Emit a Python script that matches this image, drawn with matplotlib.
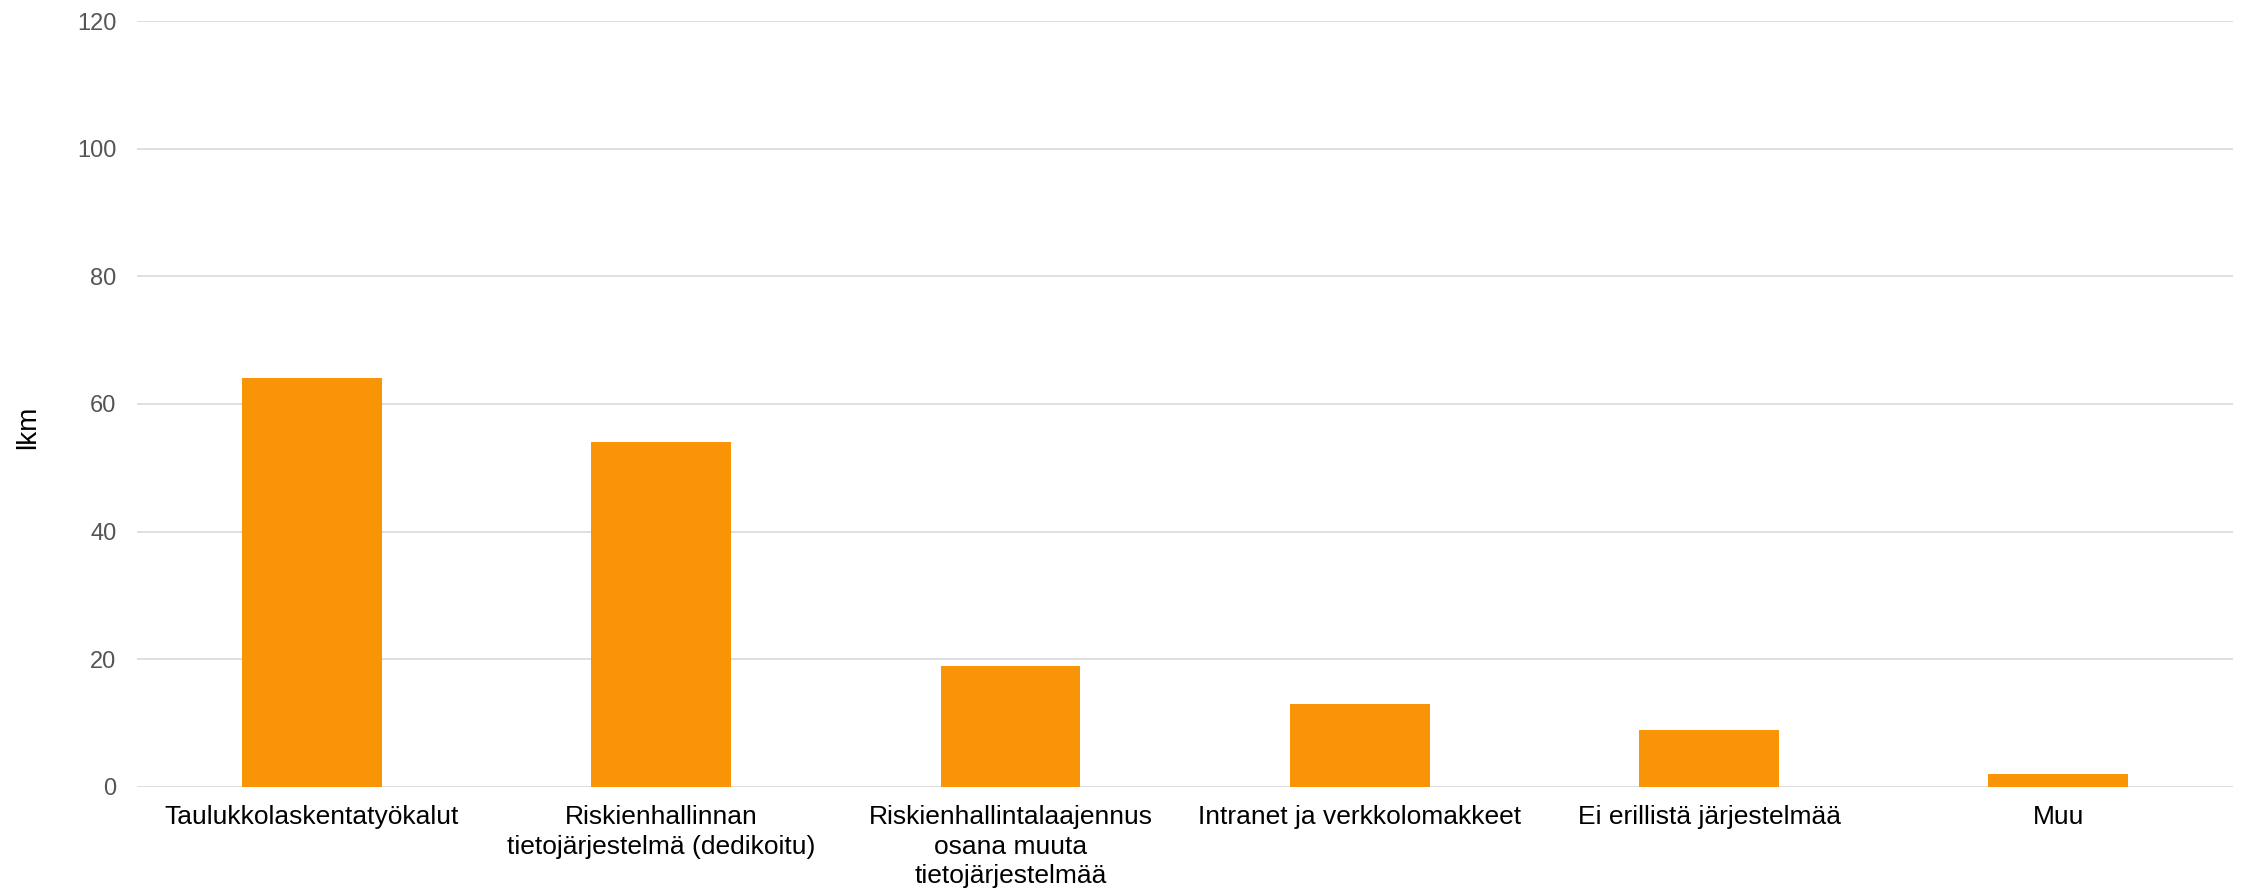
import matplotlib
matplotlib.use("Agg")
from matplotlib import pyplot as plt

categories = [
    "Taulukkolaskentatyökalut",
    "Riskienhallinnan\ntietojärjestelmä (dedikoitu)",
    "Riskienhallintalaajennus\nosana muuta\ntietojärjestelmää",
    "Intranet ja verkkolomakkeet",
    "Ei erillistä järjestelmää",
    "Muu",
]
counts = [64, 54, 19, 13, 9, 2]
yticks = [0, 20, 40, 60, 80, 100, 120]

plt.rcParams["font.family"] = ["Liberation Sans", "DejaVu Sans"]

fig = plt.figure(figsize=(22.44, 8.94), dpi=100)
ax = fig.add_axes([0.0611, 0.1197, 0.9340, 0.8568])

x = range(len(categories))
ax.bar(x, counts, width=0.4, color="#F89406", zorder=3)

ax.set_ylim(0, 120)
ax.set_yticks(yticks)
ax.set_xlim(-0.5, len(categories) - 0.5)
ax.set_xticks(list(x))
ax.set_xticklabels(categories, fontsize=19, color="#000000", linespacing=1.3)

ax.yaxis.grid(True, color="#d9d9d9", linewidth=1.2, zorder=0)
ax.tick_params(axis="y", labelsize=17, labelcolor="#555555", length=0, pad=15)
ax.tick_params(axis="x", length=0, pad=13)
for s in ax.spines.values():
    s.set_visible(False)

ax.set_ylabel("lkm", fontsize=20)
ax.yaxis.set_label_coords(-0.046, 0.47)

fig.savefig("out.png", dpi=100)
